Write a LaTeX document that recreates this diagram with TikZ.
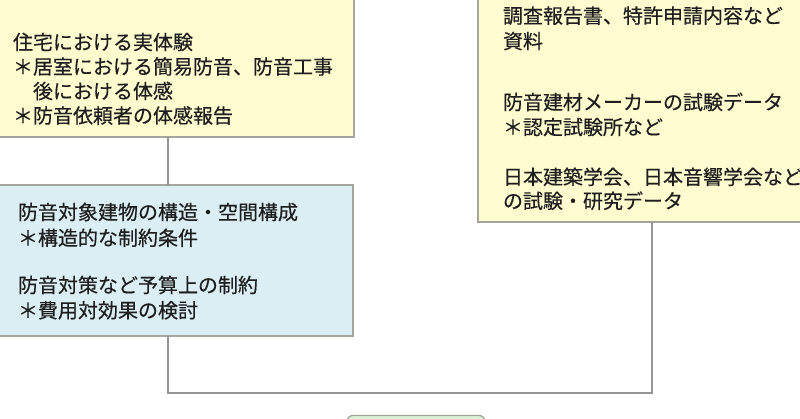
\documentclass[tikz,border=0pt]{standalone}
\usepackage{fontspec}
\newfontfamily\jp[FakeBold=0.4]{Noto Sans CJK JP}
\definecolor{boxyellow}{RGB}{255,253,208}
\definecolor{boxblue}{RGB}{219,238,244}
\definecolor{boxgreen}{RGB}{220,242,214}
\definecolor{edgegray}{RGB}{165,165,160}
\definecolor{linegray}{RGB}{150,150,150}
\definecolor{txtcol}{RGB}{30,30,30}
\tikzset{
  box/.style={draw=edgegray, line width=1.3pt, inner sep=0pt, outer sep=0pt},
  ybox/.style={box, fill=boxyellow},
  bbox/.style={box, fill=boxblue},
  gbox/.style={box, fill=boxgreen, rounded corners=6pt},
  txt/.style={anchor=base west, inner sep=0pt, outer sep=0pt, text=txtcol,
    font=\jp\fontsize{20}{24}\selectfont},
  conn/.style={draw=linegray, line width=1.4pt}
}
\begin{document}
\begin{tikzpicture}[x=1pt,y=-1pt]
\useasboundingbox (0,0) rectangle (800,419);
\clip (0,0) rectangle (800,419);
% boxes
\node[ybox, minimum width=374pt, minimum height=157pt] (exp) at (167,58.5) {};
\node[bbox, minimum width=373pt, minimum height=151pt] (bld) at (166.5,260.5) {};
\node[ybox, minimum width=342pt, minimum height=242pt] (data) at (649,101) {};
\node[gbox, minimum width=138pt, minimum height=40pt] (res) at (416,435.5) {};
\coordinate (c1) at (168,393);
\coordinate (c2) at (652,393);
% connectors
\draw[conn] (exp.south -| 168,0) -- (bld.north -| 168,0);
\draw[conn] (bld.south -| 168,0) -- (c1) -- (c2) -- (data.south -| c2);
% left top texts
\node[txt] (t1) at (13,49.6) {住宅における実体験};
\node[txt] (t2) at (13,74.1) {＊居室における簡易防音、防音工事};
\node[txt] (t3) at (13,98.6) {　後における体感};
\node[txt] (t4) at (13,123.1) {＊防音依頼者の体感報告};
% blue texts
\node[txt] (b1) at (18,219.6) {防音対象建物の構造・空間構成};
\node[txt] (b2) at (18,245.4) {＊構造的な制約条件};
\node[txt] (b3) at (18,292.6) {防音対策など予算上の制約};
\node[txt] (b4) at (18,317.8) {＊費用対効果の検討};
% right texts
\node[txt] (r1) at (503,23.2) {調査報告書、特許申請内容など};
\node[txt] (r2) at (503,48.6) {資料};
\node[txt] (r3) at (503,109.6) {防音建材メーカーの試験データ};
\node[txt] (r4) at (503,134.6) {＊認定試験所など};
\node[txt] (r5) at (503,184.4) {日本建築学会、日本音響学会など};
\node[txt] (r6) at (503,208.4) {の試験・研究データ};
\end{tikzpicture}
\end{document}
